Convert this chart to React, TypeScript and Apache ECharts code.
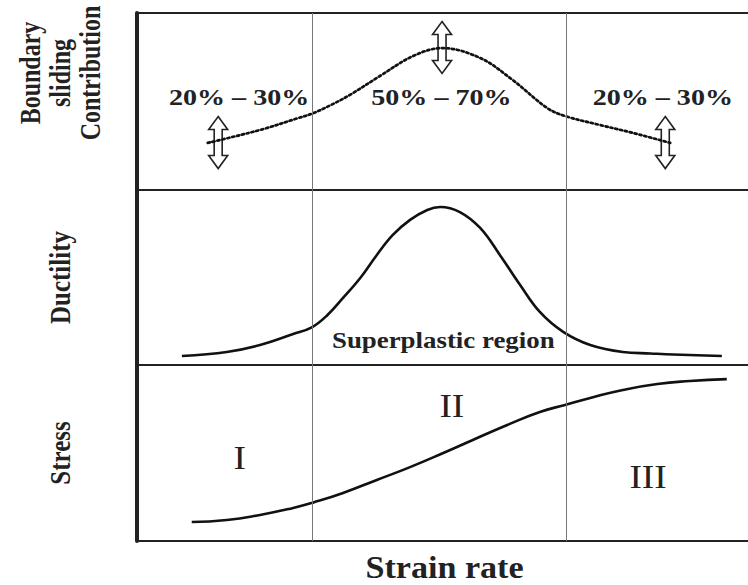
import React, { useEffect, useRef } from "react";
import * as echarts from "echarts";

const FONT = '"Liberation Serif", "Times New Roman", serif';
const INK = "#222";

// Strain rate axis: 0..100 (relative, log scale implied)
const regimeBounds = [28.5, 69.8];

// Boundary sliding contribution (top panel, 0..100)
const contribX = [11.5, 15.1, 20.5, 26.0, 28.5, 31.4, 34.6, 39.5, 44.9, 49.6, 55.8, 61.1, 66.7, 69.6, 75.3, 80.7, 86.7];
const contribY = [26.6, 29.6, 34.4, 40.4, 43.2, 47.8, 53.7, 64.4, 75.7, 80.2, 74.6, 62.1, 46.3, 41.8, 36.7, 32.2, 26.6];

// Ductility (middle panel)
const ductX = [7.3, 14.6, 20.0, 25.4, 28.5, 30.9, 33.5, 36.3, 39.0, 41.6, 44.4, 47.2, 49.3, 52.5, 55.8, 59.0, 62.3, 65.5, 69.3, 73.7, 79.0, 83.5, 87.2, 95.1];
const ductY = [5.1, 7.4, 11.4, 17.7, 21.7, 28.3, 38.3, 49.7, 62.9, 74.3, 82.9, 88.6, 90.3, 87.4, 78.3, 62.9, 45.7, 30.3, 18.9, 11.4, 7.4, 6.6, 6.0, 5.1];

// Stress (bottom panel)
const stressX = [8.9, 14.6, 20.0, 25.4, 28.6, 33.5, 39.0, 44.4, 49.8, 54.6, 60.2, 65.5, 69.6, 73.7, 79.0, 84.6, 89.9, 95.9];
const stressY = [10.8, 11.9, 14.8, 18.8, 21.8, 27.3, 34.7, 42.0, 50.0, 57.4, 65.9, 73.3, 77.3, 81.3, 85.8, 89.2, 90.9, 92.0];

// Range arrows on the contribution curve
const arrowX = [13.2, 49.6, 85.9];
const arrowY = [26.8, 80.5, 26.8];

// Range labels (top panel)
const rangeLabels = ["20% – 30%", "50% – 70%", "20% – 30%"];
const rangeX = [16.6, 49.5, 85.5];
const rangeY = [52.5, 52.5, 52.5];

// Region labels (bottom panel)
const regionLabels = ["I", "II", "III"];
const regionX = [16.7, 51.2, 83.1];
const regionY = [47.2, 76.7, 36.5];

// Middle panel label
const superLabel = "Superplastic region";
const superX = 49.8;
const superY = 14.3;

const panelNames = ["Boundary\nsliding\nContribution", "Ductility", "Stress"];
const axisTitle = "Strain rate";

const zip = (xs: number[], ys: number[]) => xs.map((x, i) => [x, ys[i]]);

export default function App() {
  const ref = useRef<HTMLDivElement>(null);
  useEffect(() => {
    if (!ref.current) return;
    const chart = echarts.init(ref.current, null, { renderer: "svg" });
    const grids = [
      { top: 13, bottom: 395 },
      { top: 190, bottom: 220 },
      { top: 365, bottom: 44 },
    ].map((g) => ({
      left: 137,
      right: 0,
      ...g,
      show: true,
      borderColor: INK,
      borderWidth: 2,
      backgroundColor: "transparent",
    }));

    const xAxes = grids.map((_, i) => ({
      type: "value",
      gridIndex: i,
      min: 0,
      max: 100,
      axisLine: { show: false },
      axisTick: { show: false },
      axisLabel: { show: false },
      splitLine: { show: false },
    }));

    const yAxes = grids.map((_, i) => ({
      type: "value",
      gridIndex: i,
      min: 0,
      max: 100,
      axisLine: { show: true, lineStyle: { color: INK, width: 4 } },
      axisTick: { show: false },
      axisLabel: { show: false },
      splitLine: { show: false },
    }));

    const boundaryLines = {
      silent: true,
      symbol: ["none", "none"],
      label: { show: false },
      lineStyle: { color: "#777", width: 1, type: "solid" },
      data: regimeBounds.map((v) => ({ xAxis: v })),
    };

    const curveStyle = { color: "#111", width: 2.6 };

    const option: any = {
      animation: false,
      backgroundColor: "#fff",
      grid: grids,
      xAxis: xAxes,
      yAxis: yAxes,
      series: [
        {
          type: "custom",
          xAxisIndex: 0,
          yAxisIndex: 0,
          z: 1,
          silent: true,
          data: zip(arrowX, arrowY),
          renderItem: (params: any, api: any) => {
            const c = api.coord([api.value(0), api.value(1)]);
            const h = 26, hl = 13, sw = 4, hw = 9.5;
            const pts = [
              [0, -h], [hw, -h + hl], [sw, -h + hl], [sw, h - hl], [hw, h - hl],
              [0, h], [-hw, h - hl], [-sw, h - hl], [-sw, -h + hl], [-hw, -h + hl],
            ].map((p) => [c[0] + p[0], c[1] + p[1]]);
            return {
              type: "polygon",
              shape: { points: pts },
              style: { fill: "none", stroke: INK, lineWidth: 1.6 },
            };
          },
        },
        {
          type: "line",
          xAxisIndex: 0,
          yAxisIndex: 0,
          z: 3,
          data: zip(contribX, contribY),
          smooth: 0.35,
          showSymbol: false,
          symbol: "none",
          lineStyle: { color: "#111", width: 2.7, type: [2.2, 2.8], cap: "round" },
          markLine: boundaryLines,
        },
        {
          type: "line",
          xAxisIndex: 1,
          yAxisIndex: 1,
          data: zip(ductX, ductY),
          smooth: 0.4,
          showSymbol: false,
          symbol: "none",
          lineStyle: curveStyle,
          markLine: boundaryLines,
        },
        {
          type: "line",
          xAxisIndex: 2,
          yAxisIndex: 2,
          data: zip(stressX, stressY),
          smooth: 0.5,
          showSymbol: false,
          symbol: "none",
          lineStyle: curveStyle,
          markLine: boundaryLines,
        },
      ],
    };
    chart.setOption(option);

    const mkText = (
      x: number,
      y: number,
      text: string,
      size: number,
      bold: boolean,
      scaleX: number,
      rotated = false,
      lineHeight?: number
    ) => ({
      type: "text",
      x,
      y,
      rotation: rotated ? Math.PI / 2 : 0,
      scaleX: rotated ? 1 : scaleX,
      scaleY: rotated ? scaleX : 1,
      z: 10,
      silent: true,
      style: {
        text,
        x: 0,
        y: 0,
        font: `${bold ? "bold " : ""}${size}px ${FONT}`,
        fill: INK,
        align: "center",
        verticalAlign: "middle",
        textAlign: "center",
        textVerticalAlign: "middle",
        ...(lineHeight ? { lineHeight } : {}),
      },
    });

    const at = (grid: number, x: number, y: number) =>
      chart.convertToPixel({ gridIndex: grid }, [x, y]) as number[];

    const graphic: any[] = [];
    rangeLabels.forEach((t, i) => {
      const p = at(0, rangeX[i], rangeY[i]);
      graphic.push(mkText(p[0], p[1], t, 24, true, 1.17));
    });
    {
      const p = at(1, superX, superY);
      graphic.push(mkText(p[0], p[1], superLabel, 24, true, 1.12));
    }
    regionLabels.forEach((t, i) => {
      const p = at(2, regionX[i], regionY[i]);
      graphic.push(mkText(p[0], p[1], t, 34, false, 1.1));
    });
    // axis titles
    {
      const b = at(2, 50, 0);
      graphic.push(mkText(b[0], b[1] + 27, axisTitle, 31, true, 1.1));
      const tops = [at(0, 0, 100), at(1, 0, 100), at(2, 0, 100)];
      const bots = [at(0, 0, 0), at(1, 0, 0), at(2, 0, 0)];
      const left = tops[0][0];
      // top panel label sits in the upper part of the panel
      graphic.push(mkText(left - 77, tops[0][1] + 60, panelNames[0], 24, true, 1.2, true, 25));
      graphic.push(mkText(left - 77, (tops[1][1] + bots[1][1]) / 2, panelNames[1], 25, true, 1.18, true));
      graphic.push(mkText(left - 77, (tops[2][1] + bots[2][1]) / 2, panelNames[2], 25, true, 1.18, true));
    }
    chart.setOption({ graphic });

    return () => chart.dispose();
  }, []);

  return (
    <div style={{ position: "fixed", left: 0, top: 0, width: 748, height: 585, overflow: "hidden", background: "#fff" }}>
      <div ref={ref} style={{ width: 752, height: 585 }} />
    </div>
  );
}
